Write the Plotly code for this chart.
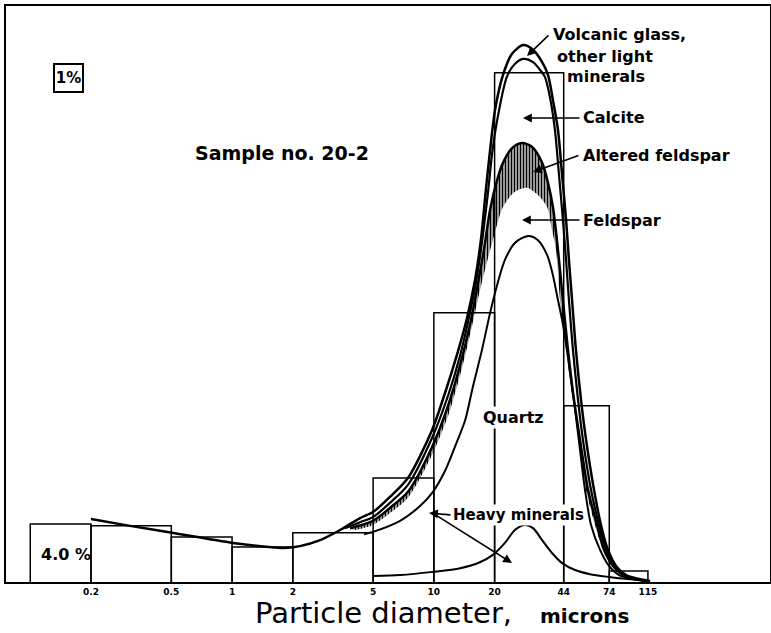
import plotly.graph_objects as go

# ---------------- data ----------------
# histogram bins (particle diameter, microns) and heights (% per log-decade)
bin_edges = [0.1, 0.2, 0.5, 1, 2, 5, 10, 20, 44, 74, 115]
bin_heights = [12.6, 12.2, 9.8, 7.6, 10.7, 22.6, 58.5, 110.7, 38.3, 2.4]

tick_vals = [0.2, 0.5, 1, 2, 5, 10, 20, 44, 74, 115]
tick_text = ["0.2", "0.5", "1", "2", "5", "10", "20", "44", "74", "115"]

# Volcanic glass, other light minerals (outermost cumulative curve)
glass_x = [0.200, 0.312, 0.504, 1.01, 1.79, 2.17, 2.73, 3.43, 4.31, 4.99, 6.06, 7.44, 9.79,
           11.4, 13.0, 14.6, 16.0, 17.1, 18.1, 19.0, 20.1, 22.0, 24.4, 27.7, 31.0, 34.4,
           36.8, 38.9, 41.2, 43.2, 45.2, 46.7, 48.4, 50.6, 53.6, 56.8, 62.2, 67.3, 72.9,
           79.9, 89.6, 103, 118]
glass_y = [13.7, 12.2, 10.7, 8.5, 7.4, 7.8, 9.1, 11.3, 13.9, 15.2, 18.5, 22.6, 33.0,
           41.3, 49.3, 57.4, 65.7, 74.3, 85.2, 93.9, 102.6, 110.2, 114.8, 116.7, 115.7, 113.0,
           110.2, 104.8, 98.3, 88.5, 78.7, 70.0, 61.3, 50.4, 39.6, 30.9, 20.0, 12.4, 7.0,
           3.5, 1.5, 0.7, 0.2]

# Calcite
calcite_x = [3.63, 4.31, 4.99, 6.06, 7.44, 9.79, 11.8, 13.5, 15.1, 16.4, 17.5, 18.6, 19.4,
             20.6, 23.0, 25.2, 27.7, 31.0, 33.6, 35.5, 37.6, 39.8, 41.7, 43.6, 45.2, 46.7,
             48.9, 51.8, 54.8, 60.1, 65.8, 71.3, 78.1, 87.6, 100, 115]
calcite_y = [11.7, 13.0, 14.1, 17.2, 21.1, 31.3, 40.7, 49.3, 58.5, 66.7, 75.4, 85.2, 92.8,
             100.4, 109.8, 112.6, 113.7, 113.0, 111.3, 109.8, 105.4, 98.3, 88.5, 78.7, 70.0, 61.3,
             50.4, 39.6, 30.9, 20.0, 12.4, 7.0, 3.5, 1.5, 0.7, 0.2]

# Altered feldspar (top of hatched band)
altered_x = [3.84, 4.99, 6.06, 7.44, 9.79, 11.8, 13.5, 15.1, 16.5, 17.7, 19.0, 20.6, 22.0,
             24.4, 27.3, 30.6, 34.4, 36.8, 38.9, 41.2, 43.6, 46.2, 49.5, 53.0, 58.1, 64.3,
             69.7, 77.2, 86.6, 99.2, 112]
altered_y = [11.7, 13.3, 16.1, 19.6, 29.3, 38.5, 47.2, 55.9, 64.6, 72.2, 80.9, 87.4, 91.1,
             94.3, 95.4, 94.6, 91.1, 86.7, 81.5, 72.2, 61.3, 50.4, 39.6, 30.9, 20.0, 12.4,
             7.0, 3.5, 1.5, 0.7, 0.2]

# Feldspar (bottom of hatched band)
feldspar_x = [4.07, 4.99, 6.06, 7.44, 9.79, 11.8, 13.5, 15.1, 16.5, 17.9, 19.6, 22.0, 25.2,
              28.9, 32.8, 36.4, 38.5, 40.3, 42.2, 45.2, 48.9, 52.4, 56.8, 62.9, 68.9, 76.3,
              85.6, 98.1, 111]
feldspar_y = [11.3, 12.4, 15.0, 18.3, 27.6, 36.3, 45.0, 53.7, 61.3, 67.8, 74.3, 81.5, 84.8,
              85.7, 84.1, 81.5, 76.5, 72.2, 61.3, 50.4, 39.6, 30.9, 20.0, 12.4, 7.0, 3.5,
              1.5, 0.7, 0.2]

# Quartz
quartz_x = [4.51, 4.99, 6.80, 8.54, 9.79, 11.4, 12.7, 14.3, 15.6, 17.3, 19.0, 20.6, 22.5,
            25.2, 29.3, 32.8, 36.4, 38.9, 41.2, 43.2, 45.7, 47.8, 50.1, 53.0, 56.1, 60.1,
            66.6, 73.8, 82.7, 95.9, 111]
quartz_y = [10.4, 10.9, 13.3, 16.5, 19.3, 24.3, 29.3, 35.2, 42.4, 50.4, 58.5, 64.6, 70.0,
            73.7, 75.2, 74.3, 71.1, 66.7, 61.3, 57.0, 50.4, 43.9, 37.4, 28.7, 20.0, 12.4,
            7.0, 3.5, 1.5, 0.7, 0.2]

# Heavy minerals
heavy_x = [4.99, 6.80, 9.90, 13.5, 16.9, 19.6, 22.5, 25.2, 28.3, 31.0, 34.4, 38.5, 43.2,
           50.1, 59.4, 73.8, 88.5, 105]
heavy_y = [1.3, 1.5, 2.2, 3.0, 4.3, 5.9, 8.5, 11.3, 12.4, 11.7, 9.1, 6.3, 4.1,
           2.6, 1.7, 1.1, 0.7, 0.4]

# ---------------- figure ----------------
W, H = 771, 633
ML, MR, MT, MB = 6, 1, 6, 51
FONT = "DejaVu Sans"


def PX(x):
    return (x - ML) / (W - ML - MR)


def PY(y):
    return (H - MB - y) / (H - MT - MB)


fig = go.Figure()

# histogram outline bars
bx, by = [], []
for i, h in enumerate(bin_heights):
    l, r = bin_edges[i], bin_edges[i + 1]
    bx += [l, l, r, r, None]
    by += [0, h, h, 0, None]
fig.add_trace(go.Scatter(x=bx, y=by, mode="lines",
                         line=dict(color="black", width=1.5), hoverinfo="skip"))

curve_line = dict(shape="spline", smoothing=0.8)

fig.add_trace(go.Scatter(x=heavy_x, y=heavy_y, mode="lines",
                         line=dict(color="black", width=2, **curve_line)))
fig.add_trace(go.Scatter(x=quartz_x, y=quartz_y, mode="lines",
                         line=dict(color="black", width=2, **curve_line)))
fig.add_trace(go.Scatter(x=feldspar_x, y=feldspar_y, mode="lines",
                         line=dict(color="rgba(0,0,0,0)", width=0.5, **curve_line)))
fig.add_trace(go.Scatter(x=altered_x, y=altered_y, mode="lines", fill="tonexty",
                         fillcolor="rgba(0,0,0,0)",
                         fillpattern=dict(shape="|", size=3, solidity=0.6,
                                          fgcolor="black", fgopacity=1,
                                          bgcolor="rgba(0,0,0,0)"),
                         line=dict(color="black", width=2.5, **curve_line)))
fig.add_trace(go.Scatter(x=calcite_x, y=calcite_y, mode="lines",
                         line=dict(color="black", width=2.2, **curve_line)))
fig.add_trace(go.Scatter(x=glass_x, y=glass_y, mode="lines",
                         line=dict(color="black", width=2.5, **curve_line)))

ann = []


def label(text, x, y, size=16, xanchor="left", bg=None, bold=True):
    d = dict(text=text, x=PX(x), y=PY(y), xref="paper", yref="paper",
             xanchor=xanchor, yanchor="middle", showarrow=False,
             font=dict(family=FONT, size=size, color="black",
                       weight="bold" if bold else "normal"))
    if bg:
        d["bgcolor"] = bg
    ann.append(d)


def arrow(tipx, tipy, tailx, taily):
    ann.append(dict(text="", x=PX(tipx), y=PY(tipy), xref="paper", yref="paper",
                    ax=tailx - tipx, ay=taily - tipy, showarrow=True,
                    arrowhead=2, arrowsize=1.1, arrowwidth=1.6, arrowcolor="black"))


label("Volcanic glass,", 551, 35)
label("other light", 555, 56)
label("minerals", 565, 76)
arrow(527, 56, 550, 34)

label("Calcite", 581, 118)
arrow(523, 118, 581, 118)
label("Altered feldspar", 581, 155)
arrow(533, 172, 580, 155)
label("Feldspar", 581, 220)
arrow(522, 220, 581, 220)

label("Quartz", 513, 417, xanchor="center", bg="white")
label("Heavy minerals", 451, 515, size=15, bg="white")
arrow(429, 513, 452, 515)
arrow(512, 563, 434, 514)

label("Sample no. 20-2", 193, 153, size=19)
label("4.0 %", 39, 554, size=16)

ann.append(dict(text="1%", x=PX(68.5), y=PY(78), xref="paper", yref="paper",
                showarrow=False, xanchor="center", yanchor="middle",
                width=27, height=26, borderwidth=2, bordercolor="black", borderpad=0,
                font=dict(family=FONT, size=15, color="black", weight="bold")))

label("Particle diameter,", 253, 613, size=29, bold=False)
label("microns", 538, 616, size=20)

fig.update_layout(
    width=W, height=H,
    margin=dict(l=ML, r=MR, t=MT, b=MB, autoexpand=False),
    paper_bgcolor="white", plot_bgcolor="white",
    showlegend=False,
    annotations=ann,
    xaxis=dict(type="log", range=[-1.1202, 2.6657], showgrid=False, zeroline=False,
               automargin=False,
               showline=True, mirror=True, linecolor="black", linewidth=2,
               tickvals=tick_vals, ticktext=tick_text, ticks="",
               tickfont=dict(family=FONT, size=9, color="black", weight="bold")),
    yaxis=dict(range=[0, 125.2], showgrid=False, zeroline=False, showticklabels=False,
               automargin=False,
               showline=True, mirror=True, linecolor="black", linewidth=2, ticks=""),
)

fig.write_html("out.html", config={"displayModeBar": False},
               post_script="document.body.style.margin='0px';"
                           "document.body.style.overflow='hidden';")
